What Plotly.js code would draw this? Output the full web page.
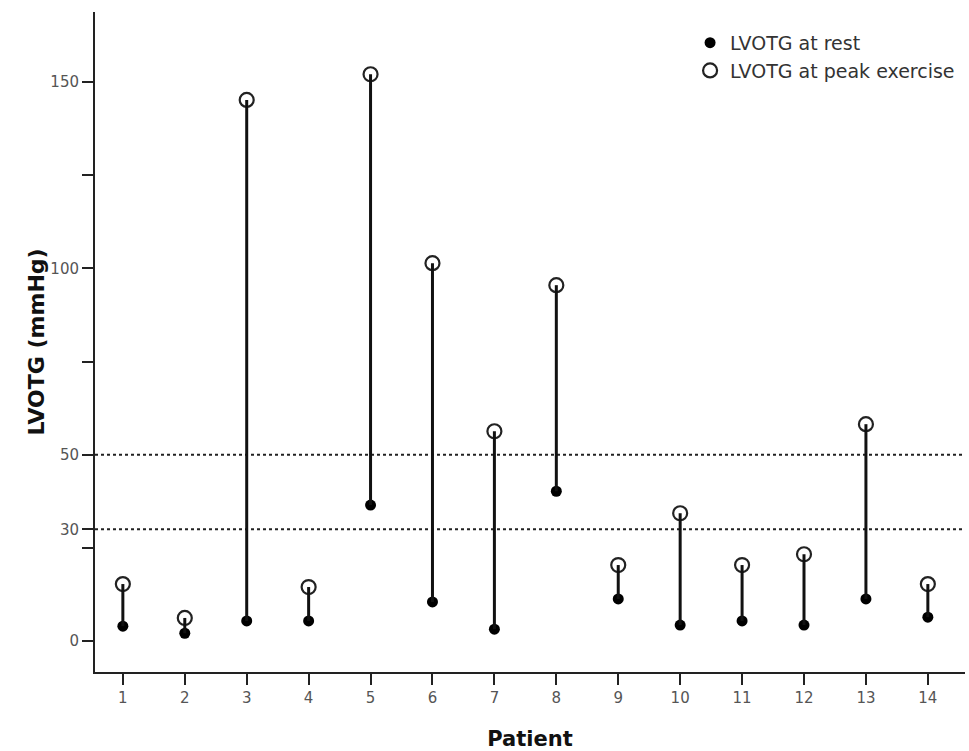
<!DOCTYPE html>
<html>
<head>
<meta charset="utf-8">
<script src="https://cdn.plot.ly/plotly-3.0.1.min.js"></script>
<style>html,body{margin:0;padding:0;background:#fff;}#chart{width:969px;height:751px;}</style>
</head>
<body>
<div id="chart"></div>
<script>
const patients = [1,2,3,4,5,6,7,8,9,10,11,12,13,14];
const atRest = [4.0, 2.1, 5.4, 5.4, 36.5, 10.5, 3.2, 40.2, 11.3, 4.3, 5.4, 4.3, 11.3, 6.4];
const atPeak = [15.3, 6.2, 145.2, 14.5, 152.1, 101.4, 56.3, 95.5, 20.4, 34.3, 20.4, 23.3, 58.2, 15.3];
const yTickVals = [0, 25, 30, 50, 75, 100, 125, 150];
const yTickText = ['0', '', '30', '50', '', '100', '', '150'];
const refLevels = [30, 50];

const segX = [], segY = [];
patients.forEach((p, i) => { segX.push(p, p, null); segY.push(atRest[i], atPeak[i], null); });

const traces = [
  {x: patients, y: atRest, type: 'scatter', mode: 'markers', name: 'LVOTG at rest',
   marker: {symbol: 'circle', size: 11, color: '#000'}},
  {x: patients, y: atPeak, type: 'scatter', mode: 'markers', name: 'LVOTG at peak exercise',
   marker: {symbol: 'circle-open', size: 14, color: '#222', line: {width: 2.2, color: '#222'}}},
  {x: segX, y: segY, type: 'scatter', mode: 'lines', showlegend: false, hoverinfo: 'skip',
   line: {color: '#111', width: 3}}
];

const shapes = refLevels.map(v => ({type: 'line', xref: 'paper', x0: 0, x1: 1, yref: 'y', y0: v, y1: v,
  line: {color: '#222', width: 2, dash: 'dot'}, layer: 'below'}));

const layout = {
  width: 969, height: 751,
  margin: {l: 95, r: 4, t: 12, b: 79},
  paper_bgcolor: '#fff', plot_bgcolor: '#fff',
  font: {family: 'DejaVu Sans, sans-serif', color: '#444'},
  showlegend: true,
  legend: {x: 0.684, y: 0.982, xanchor: 'left', yanchor: 'top', bgcolor: 'rgba(0,0,0,0)',
    font: {size: 19, color: '#333'}, tracegroupgap: 0, itemsizing: 'trace'},
  xaxis: {range: [0.55, 14.6], tickmode: 'array', tickvals: patients, ticktext: patients.map(String),
    showgrid: false, zeroline: false, showline: true, linecolor: '#222', linewidth: 2,
    ticks: 'outside', ticklen: 11, tickwidth: 2, tickcolor: '#222',
    tickfont: {size: 15, color: '#555'},
    title: {text: '<b>Patient</b>', font: {size: 21, color: '#111'}, standoff: 25}},
  yaxis: {range: [-8.3, 168.8], tickmode: 'array', tickvals: yTickVals, ticktext: yTickText,
    showgrid: false, zeroline: false, showline: true, linecolor: '#222', linewidth: 2,
    ticks: 'outside', ticklen: 11, tickwidth: 2, tickcolor: '#222',
    tickfont: {size: 15, color: '#555'},
    title: {text: '<b>LVOTG (mmHg)</b>', font: {size: 22, color: '#111'}, standoff: 0}},
  shapes: shapes
};

Plotly.newPlot('chart', traces, layout, {staticPlot: true, displayModeBar: false});
</script>
</body>
</html>
